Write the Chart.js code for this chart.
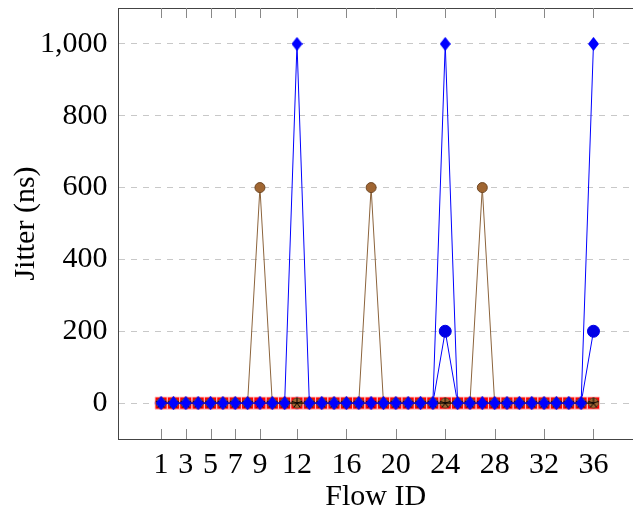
<!DOCTYPE html>
<html>
<head>
<meta charset="utf-8">
<script src="https://cdn.jsdelivr.net/npm/chart.js@4/dist/chart.umd.min.js"></script>
<style>
  body { margin: 0; background: #fff; }
  #wrap { width: 633px; height: 517px; }
</style>
</head>
<body>
<div id="wrap"><canvas id="myChart" width="633" height="517"></canvas></div>
<script>
// flow ids and jitter values (ns)
const flowIds = [1,2,3,4,5,6,7,8,9,10,11,12,13,14,15,16,17,18,19,20,21,22,23,24,25,26,27,28,29,30,31,32,33,34,35,36];
const xTickLabels = [1,3,5,7,9,12,16,20,24,28,32,36];
const yTickLabels = [0,200,400,600,800,1000];

const redSquares  = [0,0,0,0,0,0,0,0,0,0,0,0,0,0,0,0,0,0,0,0,0,0,0,0,0,0,0,0,0,0,0,0,0,0,0,0];
const brownCircle = [0,0,0,0,0,0,0,0,600,0,0,0,0,0,0,0,0,600,0,0,0,0,0,0,0,0,600,0,0,0,0,0,0,0,0,0];
const blackStars  = [0,0,0,0,0,0,0,0,0,0,0,0,0,0,0,0,0,0,0,0,0,0,0,0,0,0,0,0,0,0,0,0,0,0,0,0];
const blueCircle  = [0,0,0,0,0,0,0,0,0,0,0,0,0,0,0,0,0,0,0,0,0,0,0,200,0,0,0,0,0,0,0,0,0,0,0,200];
const blueDiamond = [0,0,0,0,0,0,0,0,0,0,0,1000,0,0,0,0,0,0,0,0,0,0,0,1000,0,0,0,0,0,0,0,0,0,0,0,1000];

const pts = (vals) => flowIds.map((x, i) => ({x: x, y: vals[i]}));

// custom marks (pgfplots style diamond and 5 point star)
function diamondMark(w, h, color) {
  const c = document.createElement('canvas');
  c.width = w; c.height = h;
  const g = c.getContext('2d');
  g.fillStyle = color;
  g.beginPath();
  g.moveTo(w/2, 0); g.lineTo(w, h/2); g.lineTo(w/2, h); g.lineTo(0, h/2);
  g.closePath();
  g.fill();
  return c;
}
function starMark(size) {
  const c = document.createElement('canvas');
  c.width = size; c.height = size;
  const g = c.getContext('2d');
  const r = size/2 - 0.5;
  g.strokeStyle = '#000';
  g.lineWidth = 1;
  g.beginPath();
  for (let k = 0; k < 5; k++) {
    const a = -Math.PI/2 + k * 2*Math.PI/5;
    g.moveTo(size/2, size/2);
    g.lineTo(size/2 + r*Math.cos(a), size/2 + r*Math.sin(a));
  }
  g.stroke();
  return c;
}

const font = { family: "'Liberation Serif', 'DejaVu Serif', serif", size: 30 };

const frame = {
  id: 'frame',
  afterDraw(chart) {
    const {ctx, chartArea: a, scales: {x}} = chart;
    ctx.save();
    ctx.lineWidth = 1;
    ctx.strokeStyle = '#444';
    ctx.beginPath();
    ctx.moveTo(a.left, a.top + 0.5);
    ctx.lineTo(a.right, a.top + 0.5);
    ctx.stroke();
    ctx.strokeStyle = '#888';
    ctx.beginPath();
    xTickLabels.forEach(v => {
      const px = Math.round(x.getPixelForValue(v)) + 0.5;
      ctx.moveTo(px, a.bottom);
      ctx.lineTo(px, a.bottom - 10);
      ctx.moveTo(px, a.top);
      ctx.lineTo(px, a.top + 10);
    });
    ctx.stroke();
    ctx.restore();
  }
};

new Chart(document.getElementById('myChart').getContext('2d'), {
  type: 'line',
  data: {
    datasets: [
      { data: pts(blueDiamond), order: 0, borderColor: 'rgb(0,0,255)', borderWidth: 1,
        pointStyle: diamondMark(11, 14, 'rgb(0,0,255)'), tension: 0 },
      { data: pts(blackStars), order: 1, borderColor: '#000', borderWidth: 1,
        pointStyle: starMark(12), tension: 0 },
      { data: pts(brownCircle), order: 2, borderColor: 'rgb(140,100,60)', borderWidth: 1,
        pointStyle: 'circle', pointRadius: 5, pointBackgroundColor: 'rgb(160,102,50)',
        pointBorderColor: 'rgb(110,70,35)', pointBorderWidth: 1, tension: 0 },
      { data: pts(redSquares), order: 3, borderColor: 'red', borderWidth: 1,
        pointStyle: 'rect', pointRadius: 8.6, pointBackgroundColor: 'red',
        pointBorderColor: 'rgba(255,200,200,0.9)', pointBorderWidth: 1, tension: 0 },
      { data: pts(blueCircle), order: 4, borderColor: 'rgb(0,0,255)', borderWidth: 1,
        pointStyle: 'circle', pointRadius: 6, pointBackgroundColor: 'rgb(0,0,230)',
        pointBorderColor: 'rgb(0,0,230)', tension: 0 },
    ],
  },
  options: {
    responsive: false,
    animation: false,
    layout: { autoPadding: false, padding: { top: 8, right: 0, left: 0, bottom: 0 } },
    plugins: { legend: { display: false }, tooltip: { enabled: false } },
    scales: {
      x: {
        type: 'linear',
        min: -2.45,
        max: 39.2,
        afterBuildTicks: (s) => { s.ticks = xTickLabels.map(v => ({value: v})); },
        afterFit: (s) => { s.height = 78; s.paddingLeft = 0; s.paddingRight = 0; },
        grid: { display: false, drawTicks: false },
        border: { display: true, color: '#444', width: 1 },
        ticks: { font: font, color: '#000', padding: 8, autoSkip: false, maxRotation: 0 },
        title: { display: true, text: 'Flow ID', font: font, color: '#000', padding: { top: 0, bottom: 2 } },
      },
      y: {
        min: -100,
        max: 1100,
        afterBuildTicks: (s) => { s.ticks = yTickLabels.map(v => ({value: v})); },
        afterFit: (s) => { s.width = 118.5; s.paddingTop = 0; s.paddingBottom = 0; },
        grid: { color: '#c8c8c8', lineWidth: 1, drawTicks: false },
        border: { display: true, color: '#444', width: 1, dash: [6, 6] },
        ticks: { font: font, color: '#000', padding: 11,
                 callback: (v) => v.toLocaleString('en-US') },
        title: { display: true, text: 'Jitter (ns)', font: font, color: '#000', padding: { top: 8, bottom: 0 } },
      },
    },
  },
  plugins: [frame],
});
</script>
</body>
</html>
